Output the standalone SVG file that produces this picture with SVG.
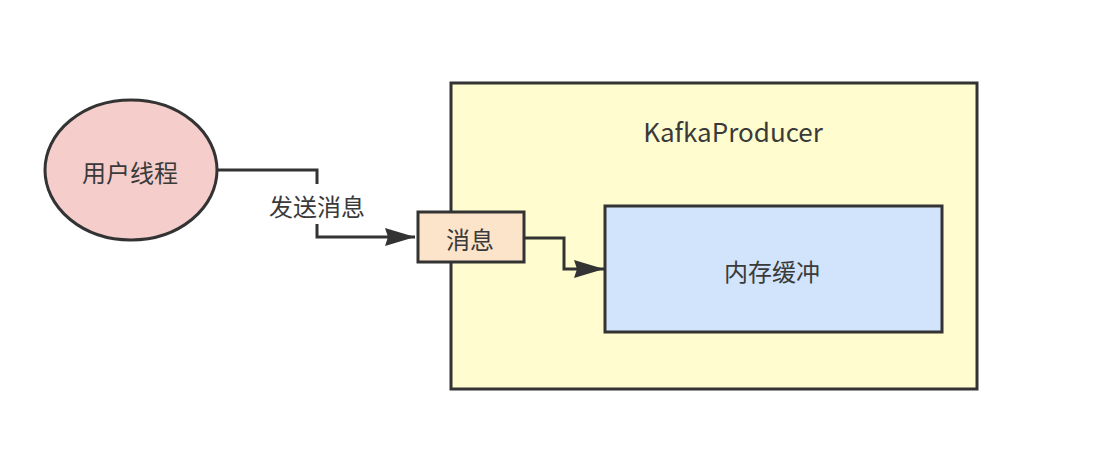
<svg xmlns="http://www.w3.org/2000/svg" width="1104" height="450" viewBox="0 0 1104 450">
<style>
.t{font-family:"Noto Sans CJK SC","Liberation Sans",sans-serif;font-size:24px;fill:#3a3a3a;text-anchor:middle;dominant-baseline:central}
.s{stroke:#333;stroke-width:3}
.c{fill:none;stroke:#333;stroke-width:3}
</style>
<defs>
<marker id="a" markerUnits="userSpaceOnUse" markerWidth="32" markerHeight="22" refX="30" refY="11" orient="auto">
<path d="M0,2 L30,11 L0,20 L3,11 Z" fill="#333"/>
</marker>
</defs>
<rect width="1104" height="450" fill="#fff"/>
<g id="producer">
<rect class="s" x="451" y="83" width="526" height="306" fill="#fffccf"/>
<text class="t" x="733" y="130" style="font-size:26px">KafkaProducer</text>
</g>
<g id="buffer">
<rect class="s" x="605" y="206" width="337" height="126" fill="#d2e4fb"/>
<text class="t" x="772" y="270">内存缓冲</text>
</g>
<g id="user">
<ellipse class="s" cx="131" cy="170" rx="86" ry="70" fill="#f5cdcb"/>
<text class="t" x="130" y="171">用户线程</text>
</g>
<g id="connectors">
<path class="c" d="M217,170 H317 V237 H415" marker-end="url(#a)"/>
<rect x="262" y="184" width="110" height="40" fill="#fff"/>
<text class="t" x="317" y="205">发送消息</text>
<path class="c" d="M524,238 H564 V269 H604" marker-end="url(#a)"/>
</g>
<g id="msg">
<rect class="s" x="418" y="212" width="106" height="50" fill="#fce4cb"/>
<text class="t" x="470" y="238">消息</text>
</g>
</svg>
